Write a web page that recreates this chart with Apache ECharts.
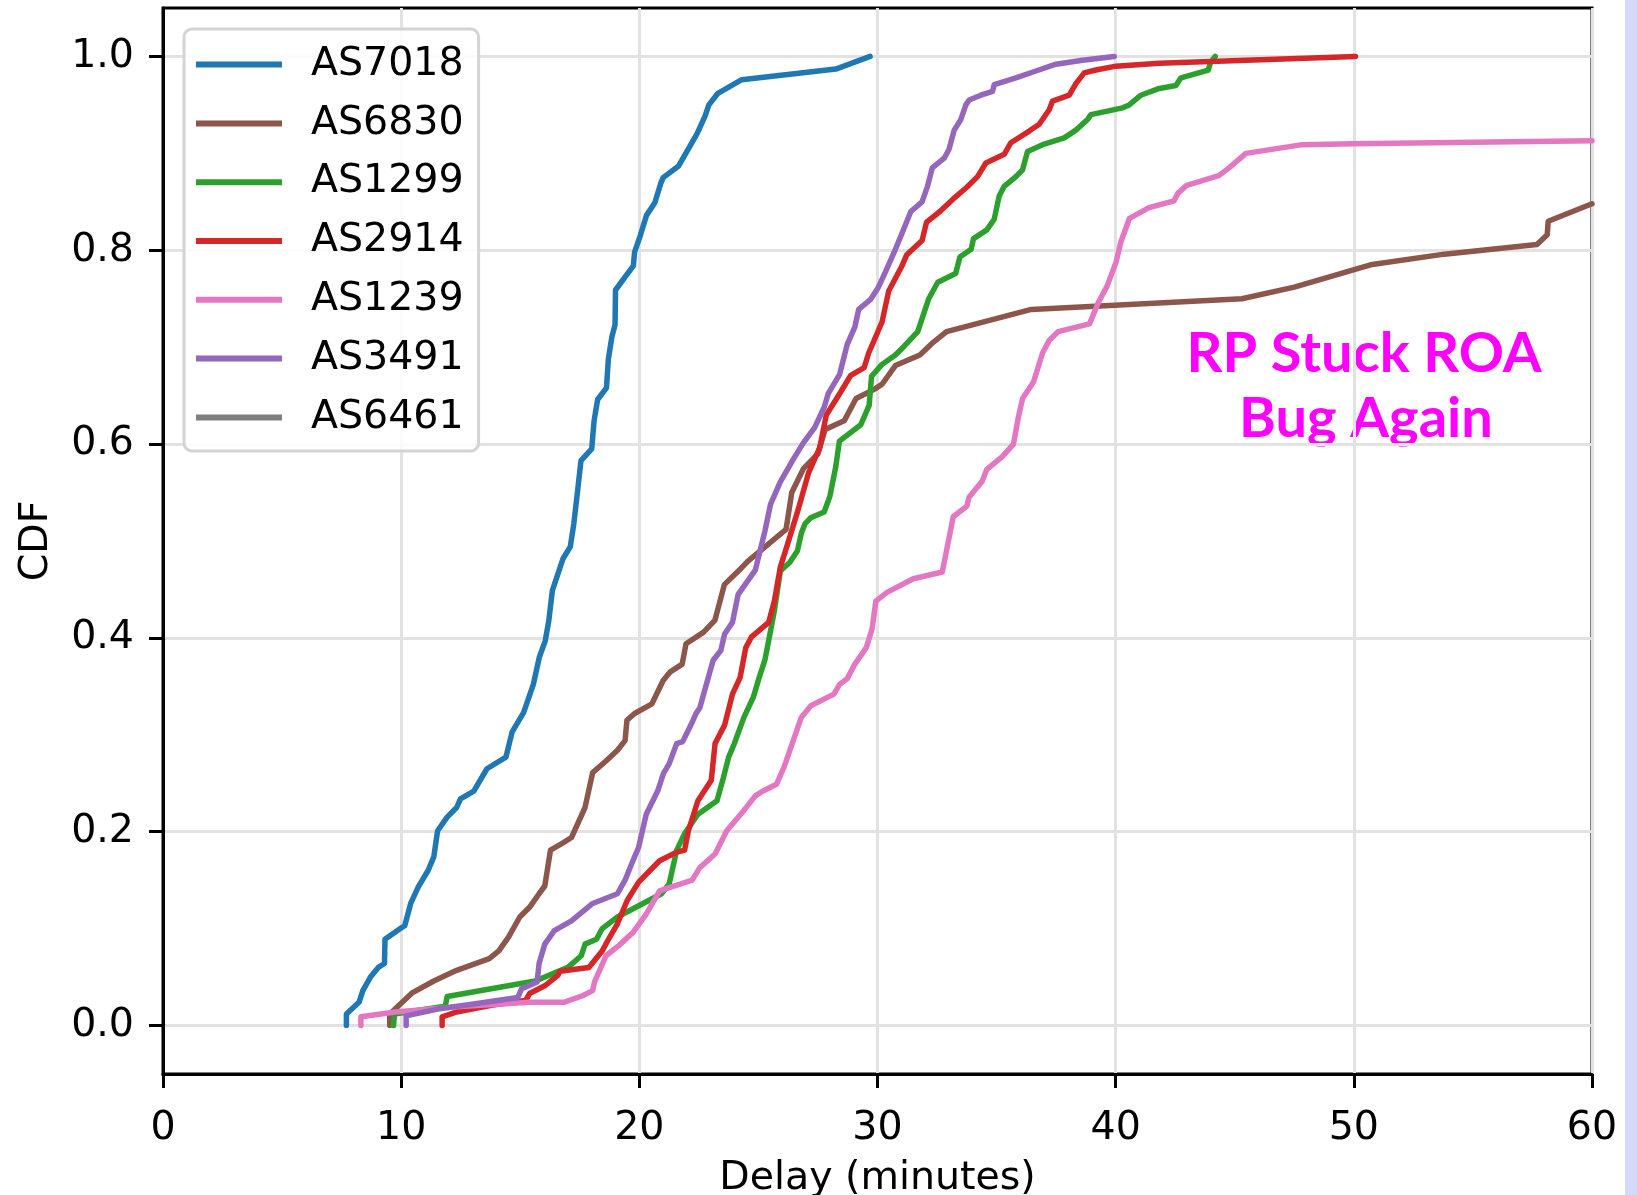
<!DOCTYPE html>
<html>
<head>
<meta charset="utf-8">
<script src="https://cdn.jsdelivr.net/npm/echarts@6/dist/echarts.min.js"></script>
<style>
  html, body { margin: 0; padding: 0; background: #ffffff; }
  #chart { width: 1637px; height: 1195px; }
</style>
</head>
<body>
<div id="chart"></div>
<script>
// ---- data (delay in minutes, CDF) ----
const seriesNames = ['AS7018', 'AS6830', 'AS1299', 'AS2914', 'AS1239', 'AS3491', 'AS6461'];
const seriesColors = ['#1f77b4', '#8c564b', '#2ca02c', '#d62728', '#e377c2', '#9467bd', '#7f7f7f'];
const xTicks = [0, 10, 20, 30, 40, 50, 60];
const yTicks = [0, 0.2, 0.4, 0.6, 0.8, 1.0];

const as7018 = [[7.70,0],[7.70,0.012],[8.23,0.024],[8.39,0.036],[8.71,0.05],[9.04,0.06],[9.30,0.064],[9.32,0.089],[9.95,0.10],[10.15,0.103],[10.40,0.126],[10.72,0.143],[11.13,0.16],[11.37,0.174],[11.53,0.201],[11.93,0.215],[12.33,0.225],[12.49,0.234],[13.05,0.242],[13.60,0.265],[14.40,0.277],[14.66,0.303],[15.14,0.323],[15.55,0.352],[15.80,0.38],[16.05,0.397],[16.2,0.418],[16.35,0.449],[16.8,0.482],[17.1,0.494],[17.25,0.518],[17.4,0.55],[17.55,0.583],[18.0,0.595],[18.1,0.624],[18.25,0.646],[18.62,0.658],[18.7,0.688],[18.85,0.711],[18.98,0.723],[19.0,0.759],[19.45,0.774],[19.75,0.784],[19.8,0.798],[20.05,0.816],[20.3,0.836],[20.65,0.849],[20.9,0.869],[21.0,0.875],[21.65,0.887],[22.42,0.92],[22.75,0.938],[22.92,0.95],[23.3,0.962],[24.3,0.976],[28.25,0.987],[29.69,1.0]];
const as6830 = [[9.52,0],[9.52,0.012],[10.48,0.034],[11.37,0.046],[12.33,0.057],[13.70,0.069],[14.10,0.077],[14.50,0.091],[14.98,0.112],[15.39,0.122],[15.79,0.136],[16.03,0.144],[16.27,0.181],[16.83,0.189],[17.15,0.194],[17.72,0.225],[18.04,0.261],[18.60,0.273],[19.08,0.284],[19.40,0.294],[19.48,0.315],[19.80,0.322],[20.53,0.332],[21.00,0.356],[21.30,0.365],[21.80,0.373],[21.96,0.394],[22.70,0.406],[23.17,0.418],[23.57,0.455],[24.20,0.47],[24.55,0.479],[26.16,0.512],[26.40,0.55],[26.9,0.575],[27.5,0.59],[27.8,0.615],[28.6,0.624],[29.1,0.647],[29.9,0.657],[30.2,0.662],[30.75,0.681],[31.78,0.692],[32.34,0.705],[32.90,0.716],[36.46,0.739],[45.30,0.75],[47.50,0.762],[50.70,0.785],[53.80,0.796],[57.69,0.806],[58.12,0.816],[58.16,0.83],[60.0,0.848]];
const as1299 = [[9.68,0],[9.72,0.012],[11.85,0.02],[11.93,0.03],[13.78,0.038],[15.63,0.046],[17.0,0.06],[17.56,0.072],[17.72,0.084],[18.2,0.089],[18.44,0.1],[19.08,0.112],[20.93,0.136],[21.25,0.146],[21.57,0.181],[21.9,0.198],[22.46,0.218],[23.26,0.232],[23.5,0.253],[23.75,0.277],[23.99,0.291],[24.39,0.318],[24.79,0.339],[25.03,0.359],[25.27,0.377],[25.43,0.397],[25.67,0.428],[25.92,0.469],[26.32,0.478],[26.64,0.49],[26.8,0.508],[26.96,0.518],[27.2,0.524],[27.76,0.53],[28.0,0.546],[28.25,0.577],[28.4,0.603],[29.3,0.62],[29.65,0.64],[29.75,0.67],[30.18,0.682],[30.75,0.692],[31.12,0.701],[31.69,0.716],[32.15,0.75],[32.53,0.767],[33.28,0.776],[33.46,0.793],[33.93,0.801],[34.03,0.812],[34.59,0.821],[34.9,0.832],[35.11,0.856],[35.32,0.866],[35.81,0.876],[36.09,0.883],[36.3,0.902],[36.93,0.909],[37.84,0.916],[38.33,0.924],[38.82,0.935],[38.96,0.94],[40.29,0.947],[40.57,0.95],[41.06,0.96],[41.83,0.967],[42.53,0.97],[42.74,0.978],[43.89,0.986],[43.97,0.993],[44.18,1.0]];
const as2914 = [[11.72,0],[11.72,0.009],[12.33,0.014],[13.78,0.021],[15.23,0.026],[15.39,0.033],[16.03,0.041],[16.59,0.052],[16.67,0.056],[17.88,0.06],[18.44,0.077],[18.68,0.088],[19.08,0.105],[19.49,0.129],[19.97,0.148],[20.85,0.17],[21.57,0.179],[21.9,0.181],[22.06,0.201],[22.46,0.232],[23.02,0.253],[23.18,0.291],[23.58,0.31],[23.91,0.342],[24.23,0.359],[24.47,0.39],[24.71,0.401],[25.43,0.416],[25.67,0.438],[25.92,0.473],[26.24,0.498],[26.64,0.53],[27.1,0.57],[27.57,0.596],[27.85,0.63],[28.41,0.652],[28.88,0.671],[29.44,0.679],[29.63,0.694],[30.19,0.726],[30.47,0.758],[31.03,0.784],[31.22,0.795],[31.87,0.81],[32.06,0.829],[32.62,0.84],[33.18,0.853],[33.75,0.865],[34.2,0.876],[34.55,0.89],[35.32,0.899],[35.6,0.911],[36.37,0.923],[36.79,0.93],[37.21,0.945],[37.35,0.954],[38.05,0.96],[38.33,0.972],[38.68,0.983],[39.17,0.986],[40.01,0.99],[41.83,0.993],[50.07,1.0]];
const as1239 = [[8.31,0],[8.31,0.009],[9.76,0.014],[12.17,0.019],[15.39,0.024],[16.83,0.024],[17.64,0.031],[18.04,0.036],[18.12,0.045],[18.6,0.072],[19.16,0.083],[19.73,0.096],[20.29,0.115],[20.85,0.139],[22.22,0.15],[22.54,0.163],[23.18,0.177],[23.67,0.201],[24.15,0.215],[24.39,0.222],[24.87,0.237],[25.19,0.242],[25.76,0.249],[26.08,0.267],[26.8,0.318],[27.2,0.33],[28.17,0.342],[28.41,0.352],[28.73,0.358],[29.05,0.373],[29.53,0.39],[29.77,0.409],[29.93,0.438],[30.4,0.447],[31.5,0.461],[32.72,0.468],[33.18,0.525],[33.75,0.536],[33.84,0.545],[34.4,0.562],[34.59,0.574],[35.24,0.587],[35.71,0.6],[35.9,0.626],[36.09,0.647],[36.55,0.664],[36.93,0.694],[37.21,0.707],[37.58,0.716],[38.9,0.724],[39.27,0.746],[39.64,0.763],[40.02,0.788],[40.21,0.808],[40.58,0.833],[41.4,0.844],[42.45,0.851],[42.62,0.859],[42.98,0.867],[44.33,0.877],[44.76,0.885],[45.47,0.9],[47.84,0.909],[50.0,0.91],[60.0,0.913]];
const as3491 = [[10.21,0],[10.21,0.01],[11.53,0.017],[12.97,0.022],[14.9,0.029],[15.06,0.038],[15.71,0.045],[15.79,0.064],[16.03,0.084],[16.43,0.098],[17.15,0.108],[18.04,0.126],[19.08,0.136],[19.4,0.15],[19.73,0.17],[19.97,0.184],[20.29,0.218],[20.77,0.242],[21.01,0.26],[21.25,0.27],[21.57,0.291],[21.82,0.293],[22.22,0.313],[22.38,0.322],[22.54,0.328],[22.78,0.349],[23.1,0.377],[23.42,0.387],[23.58,0.404],[23.91,0.416],[24.15,0.445],[24.47,0.456],[24.87,0.47],[25.27,0.51],[25.51,0.538],[25.92,0.561],[26.48,0.585],[26.88,0.601],[27.36,0.617],[27.76,0.638],[27.93,0.652],[28.41,0.672],[28.73,0.703],[29.05,0.721],[29.21,0.739],[29.7,0.749],[30.02,0.761],[30.34,0.778],[30.75,0.801],[31.12,0.823],[31.4,0.84],[31.87,0.85],[32.1,0.866],[32.3,0.885],[32.8,0.895],[33.0,0.904],[33.22,0.924],[33.5,0.935],[33.71,0.95],[33.85,0.955],[34.34,0.96],[34.83,0.964],[34.9,0.971],[35.81,0.978],[36.65,0.985],[37.49,0.992],[38.61,0.996],[39.94,1.0]];
const as6461 = [];

const seriesData = [as7018, as6830, as1299, as2914, as1239, as3491, as6461];
const annotationLines = ['RP Stuck ROA', 'Bug Again'];

const FONT = "'DejaVu Sans', 'Noto Sans', sans-serif";
const FS = 39.5;

const chart = echarts.init(document.getElementById('chart'), null, { renderer: 'canvas' });

const option = {
  animation: false,
  backgroundColor: '#ffffff',
  grid: {
    left: 163, right: 45, top: 8, bottom: 121,
    outerBoundsMode: 'none', containLabel: false,
    show: true, borderColor: '#000000', borderWidth: 3, backgroundColor: 'transparent'
  },
  legend: {
    orient: 'vertical',
    left: 184, top: 29,
    data: seriesNames,
    icon: 'rect',
    itemWidth: 86, itemHeight: 6,
    itemGap: 18.8,
    padding: [15.6, 15, 13.6, 12],
    backgroundColor: 'rgba(255,255,255,0.85)',
    borderColor: '#d4d4d4', borderWidth: 3, borderRadius: 8,
    selectedMode: false,
    textStyle: { fontSize: FS, fontFamily: FONT, color: '#000000', lineHeight: 40, padding: [0, 0, 0, 24] }
  },
  xAxis: {
    type: 'value', min: xTicks[0], max: xTicks[xTicks.length - 1], interval: 10,
    name: 'Delay (minutes)', nameLocation: 'middle', nameGap: 85,
    nameTextStyle: { fontSize: FS, fontFamily: FONT, color: '#000000', lineHeight: 40 },
    axisLine: { show: true, onZero: false, lineStyle: { color: '#000000', width: 3 } },
    axisTick: { show: true, inside: false, length: 14, lineStyle: { color: '#000000', width: 3 } },
    axisLabel: { fontSize: FS, fontFamily: FONT, color: '#000000', margin: 35, lineHeight: 40 },
    splitLine: { show: true, lineStyle: { color: '#e2e2e2', width: 3 } }
  },
  yAxis: {
    type: 'value', min: -0.05, max: 1.05, splitNumber: 5,
    name: 'CDF', nameLocation: 'middle', nameGap: 106, nameRotate: 90,
    nameTextStyle: { fontSize: FS, fontFamily: FONT, color: '#000000', lineHeight: 40 },
    axisLine: { show: true, onZero: false, lineStyle: { color: '#000000', width: 3 } },
    axisTick: { show: true, inside: false, length: 14, customValues: yTicks, lineStyle: { color: '#000000', width: 3 } },
    axisLabel: {
      fontSize: FS, fontFamily: FONT, color: '#000000', margin: 29, customValues: yTicks,
      formatter: function (v) {
        if (Math.abs(v * 5 - Math.round(v * 5)) > 1e-6) return '';
        return Number(v).toFixed(1);
      }
    },
    splitLine: { show: true, lineStyle: { color: '#e2e2e2', width: 3 } }
  },
  series: seriesNames.map(function (name, i) {
    return {
      name: name, type: 'line', data: seriesData[i],
      symbol: 'none', showSymbol: false, clip: true,
      lineStyle: { color: seriesColors[i], width: 5.5, join: 'round', cap: 'round' },
      itemStyle: { color: seriesColors[i] },
      emphasis: { disabled: true }
    };
  }),
  graphic: [
    { type: 'rect', left: 1625, top: 0, shape: { width: 12, height: 1195 }, style: { fill: '#d5d8f9' }, silent: true },
    { type: 'text', x: 1364, y: 354, silent: true,
      style: { text: annotationLines[0], fill: '#ff00ff', fontSize: 56, fontWeight: 'bold', fontFamily: "'Comic Sans MS', Lato, sans-serif", align: 'center', verticalAlign: 'middle' } },
    { type: 'text', x: 1366, y: 419, silent: true,
      style: { text: annotationLines[1], fill: '#ff00ff', fontSize: 56, fontWeight: 'bold', fontFamily: "'Comic Sans MS', Lato, sans-serif", align: 'center', verticalAlign: 'middle' } }
  ]
};
chart.setOption(option);
</script>
</body>
</html>
